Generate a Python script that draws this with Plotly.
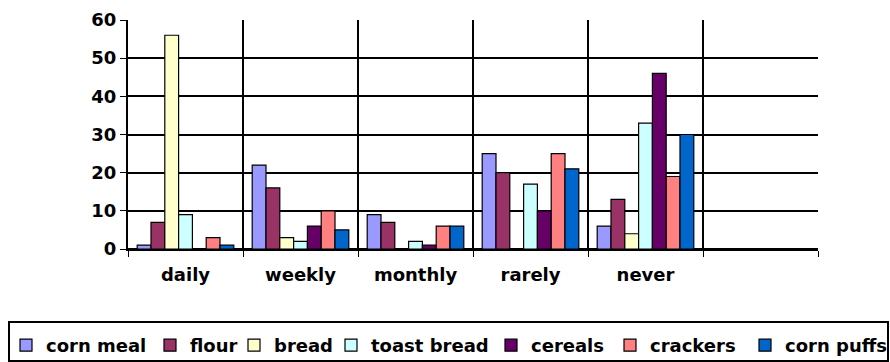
import plotly.graph_objects as go

categories = ["daily", "weekly", "monthly", "rarely", "never", ""]
series_names = ["corn meal", "flour", "bread", "toast bread", "cereals", "crackers", "corn puffs"]
corn_meal = [1, 22, 9, 25, 6]
flour = [7, 16, 7, 20, 13]
bread = [56, 3, 0, 0, 4]
toast_bread = [9, 2, 2, 17, 33]
cereals = [0, 6, 1, 10, 46]
crackers = [3, 10, 6, 25, 19]
corn_puffs = [1, 5, 6, 21, 30]
y_ticks = [0, 10, 20, 30, 40, 50, 60]

colors = ["#9999FF", "#993366", "#FFFFCC", "#CCFFFF", "#660066", "#FF8080", "#0066CC"]
legend_entry_widths = [99, 39, 52, 115, 74, 90, 104]
all_values = [corn_meal, flour, bread, toast_bread, cereals, crackers, corn_puffs]

x_pos = list(range(len(categories)))

W, H = 890, 362
plot_left, plot_right = 128, 818
top, bottom = 20, 113
plot_h = H - top - bottom

def px_y(py):
    return (H - bottom - py) / plot_h

fig = go.Figure()
for name, vals, col, lw in zip(series_names, all_values, colors, legend_entry_widths):
    fig.add_trace(go.Bar(
        x=x_pos[:len(vals)], y=vals, name="<b>%s</b>" % name,
        marker=dict(color=col, line=dict(color="black", width=1.2)),
        legendwidth=lw,
    ))

fig.update_layout(
    width=W, height=H,
    margin=dict(l=0, r=0, t=top, b=bottom, autoexpand=False),
    paper_bgcolor="white", plot_bgcolor="white",
    barmode="group", bargap=0.16, bargroupgap=0,
    font=dict(family="DejaVu Sans, sans-serif", size=18, color="black"),
    xaxis=dict(
        domain=[plot_left / W, plot_right / W],
        range=[-0.5, len(categories) - 0.5],
        tickvals=x_pos, ticktext=["<b>%s</b>" % c for c in categories],
        showgrid=False, showline=True, linecolor="black", linewidth=2,
        ticks="", zeroline=False,
        minor=dict(tick0=0.5, dtick=1, showgrid=True, gridcolor="black", gridwidth=2,
                   ticks="outside", ticklen=6, tickcolor="black"),
        tickfont=dict(size=18), ticklabelstandoff=8,
    ),
    yaxis=dict(
        range=[0, 60], tickvals=y_ticks, ticktext=["<b>%d</b>" % v for v in y_ticks],
        showgrid=True, gridcolor="black", gridwidth=2,
        showline=True, linecolor="black", linewidth=2,
        ticks="outside", ticklen=6, tickcolor="black",
        zeroline=True, zerolinecolor="black", zerolinewidth=2,
        tickfont=dict(size=18),
    ),
    legend=dict(
        orientation="h", x=6 / W, xanchor="left", y=px_y(327), yanchor="top",
        borderwidth=0, bgcolor="rgba(0,0,0,0)",
        font=dict(size=18), itemwidth=30, tracegroupgap=0,
    ),
    shapes=[dict(type="rect", xref="paper", yref="paper",
                 x0=9 / W, x1=888 / W, y0=px_y(361), y1=px_y(322),
                 line=dict(color="black", width=2), layer="below")],
)

fig.write_html("out.html")
